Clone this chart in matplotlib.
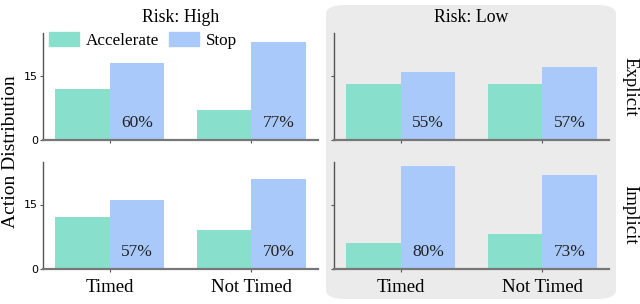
import matplotlib
matplotlib.use("Agg")
import matplotlib.pyplot as plt
import numpy as np
from matplotlib.patches import FancyBboxPatch, Patch

conditions = ["Timed", "Not Timed"]
risks = ["High", "Low"]
cues = ["Explicit", "Implicit"]

# counts per panel: (cue, risk) -> values for Timed / Not Timed
accelerate = {
    ("Explicit", "High"): [12, 7],
    ("Explicit", "Low"): [13, 13],
    ("Implicit", "High"): [12, 9],
    ("Implicit", "Low"): [6, 8],
}
stop = {
    ("Explicit", "High"): [18, 23],
    ("Explicit", "Low"): [16, 17],
    ("Implicit", "High"): [16, 21],
    ("Implicit", "Low"): [24, 22],
}

acc_color = "#88e0cc"
stop_color = "#a9c9fb"
serif = ["Liberation Serif", "DejaVu Serif"]

fig = plt.figure(figsize=(6.4, 3.04), dpi=100)

# gray box behind the low-risk column
box = FancyBboxPatch((326 / 640, 5 / 304), 290 / 640, 294 / 304,
                     boxstyle="round,pad=0,rounding_size=0.03",
                     transform=fig.transFigure, facecolor="#ebebeb",
                     edgecolor="none", zorder=-1)
fig.patches.append(box)

lefts = [43 / 640, 334 / 640]
bottoms = [(304 - 140) / 304, (304 - 268.7) / 304]
w, h = 275 / 640, 107 / 304
x = np.arange(len(conditions))
bw = 0.385

axes = {}
for r, cue in enumerate(cues):
    for c, risk in enumerate(risks):
        ax = fig.add_axes([lefts[c], bottoms[r], w, h])
        ax.patch.set_alpha(0)
        a = accelerate[(cue, risk)]
        s = stop[(cue, risk)]
        ax.bar(x - bw / 2, a, bw, color=acc_color, label="Accelerate")
        ax.bar(x + bw / 2, s, bw, color=stop_color, label="Stop")
        for i in range(len(x)):
            pct = round(100 * s[i] / (a[i] + s[i]))
            ax.text(x[i] + bw / 2, 2.0, f"{pct}%", ha="center", va="bottom",
                    fontsize=12.5, family=serif, color="#222222")
        ax.set_xlim(-0.47, 1.47)
        ax.set_ylim(0, 25)
        ax.set_yticks([0, 15])
        ax.set_xticks(x)
        for sp in ["top", "right"]:
            ax.spines[sp].set_visible(False)
        ax.spines["left"].set_color("#555555")
        ax.spines["left"].set_linewidth(1.0)
        ax.spines["bottom"].set_color("#777777")
        ax.spines["bottom"].set_linewidth(1.6)
        ax.tick_params(axis="both", length=2.5, width=0.8, color="#555555",
                       labelsize=8, pad=1)
        if c == 1:
            ax.set_yticklabels([])
        if r == 0:
            ax.set_xticklabels([])
            ax.set_title(f"Risk: {risk}", fontsize=12.8, family=serif, pad=8)
        else:
            ax.set_xticklabels(conditions, fontsize=13.5, family=serif)
            ax.tick_params(axis="x", pad=5)
        if c == 1:
            ax.text(1.045, 0.5, cue, transform=ax.transAxes, rotation=270,
                    ha="left", va="center", fontsize=13.5, family=serif)
        axes[(r, c)] = ax

fig.text(0.016, 0.5, "Action Distribution", rotation=90, ha="center",
         va="center", fontsize=14, family=serif)

handles = [Patch(color=acc_color, label="Accelerate"),
           Patch(color=stop_color, label="Stop")]
axes[(0, 0)].legend(handles=handles, loc="upper left",
                    bbox_to_anchor=(6 / 275, 1.01), ncol=2, frameon=False,
                    prop={"family": serif, "size": 12.3},
                    handlelength=1.75, handleheight=0.88, handletextpad=0.4,
                    columnspacing=0.58, borderaxespad=0, borderpad=0)

fig.savefig("out.png", dpi=100)
